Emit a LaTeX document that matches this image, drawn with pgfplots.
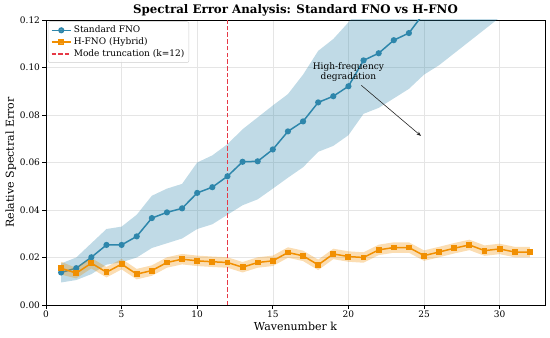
\documentclass[border=0pt]{standalone}
\usepackage{pgfplots}
\usepackage{pgfplotstable}
\pgfplotsset{compat=1.18}
\usetikzlibrary{arrows.meta}
\usepackage{fontspec}
\setmainfont{DejaVu Serif}
\definecolor{fnoblue}{HTML}{2E86AB}
\definecolor{hfnoorange}{HTML}{F18F01}
\definecolor{truncred}{RGB}{230,57,70}

% Standard FNO mean
\pgfplotstableread{
k m
1 0.0137
2 0.0155
3 0.0201
4 0.0253
5 0.0253
6 0.0289
7 0.0366
8 0.0390
9 0.0407
10 0.0472
11 0.0496
12 0.0542
13 0.0603
14 0.0605
15 0.0655
16 0.0731
17 0.0773
18 0.0853
19 0.0879
20 0.0921
21 0.1030
22 0.1060
23 0.1115
24 0.1145
25 0.1230
26 0.1280
27 0.1340
28 0.1400
29 0.1450
30 0.1500
31 0.1560
32 0.1620
}\fnodata

% Standard FNO band outline: upper edge k=1..32, then lower edge k=32..1
\pgfplotstableread{
k v
1 0.0175
2 0.0200
3 0.0260
4 0.0320
5 0.0330
6 0.0380
7 0.0460
8 0.0490
9 0.0510
10 0.0600
11 0.0630
12 0.0677
13 0.0740
14 0.0790
15 0.0840
16 0.0888
17 0.0970
18 0.1070
19 0.1120
20 0.1190
21 0.1270
22 0.1310
23 0.1370
24 0.1400
25 0.1490
26 0.1550
27 0.1620
28 0.1690
29 0.1750
30 0.1810
31 0.1880
32 0.1940
32 0.1310
31 0.1260
30 0.1210
29 0.1160
28 0.1110
27 0.1060
26 0.1010
25 0.0970
24 0.0910
23 0.0870
22 0.0830
21 0.0805
20 0.0715
19 0.0670
18 0.0645
17 0.0580
16 0.0536
15 0.0490
14 0.0445
13 0.0420
12 0.0380
11 0.0340
10 0.0320
9 0.0280
8 0.0260
7 0.0240
6 0.0200
5 0.0180
4 0.0170
3 0.0130
2 0.0105
1 0.0095
}\fnoband

% H-FNO mean
\pgfplotstableread{
k m
1 0.0155
2 0.0134
3 0.0176
4 0.0138
5 0.0172
6 0.0130
7 0.0145
8 0.0179
9 0.0193
10 0.0186
11 0.0182
12 0.0179
13 0.0159
14 0.0179
15 0.0186
16 0.0221
17 0.0207
18 0.0169
19 0.0215
20 0.0204
21 0.0200
22 0.0232
23 0.0242
24 0.0242
25 0.0208
26 0.0223
27 0.0239
28 0.0253
29 0.0229
30 0.0236
31 0.0223
32 0.0223
}\hfnodata

% H-FNO band outline: upper edge k=1..32, then lower edge k=32..1
\pgfplotstableread{
k v
1 0.0182
2 0.0156
3 0.0198
4 0.0160
5 0.0194
6 0.0152
7 0.0167
8 0.0201
9 0.0215
10 0.0208
11 0.0204
12 0.0201
13 0.0181
14 0.0201
15 0.0208
16 0.0243
17 0.0229
18 0.0191
19 0.0237
20 0.0226
21 0.0222
22 0.0254
23 0.0264
24 0.0264
25 0.0230
26 0.0245
27 0.0261
28 0.0275
29 0.0251
30 0.0258
31 0.0245
32 0.0245
32 0.0201
31 0.0201
30 0.0214
29 0.0207
28 0.0231
27 0.0217
26 0.0201
25 0.0186
24 0.0220
23 0.0220
22 0.0210
21 0.0178
20 0.0182
19 0.0193
18 0.0147
17 0.0185
16 0.0199
15 0.0164
14 0.0157
13 0.0137
12 0.0157
11 0.0160
10 0.0164
9 0.0171
8 0.0157
7 0.0123
6 0.0108
5 0.0150
4 0.0116
3 0.0154
2 0.0112
1 0.0128
}\hfnoband

\pgfplotstableread{
k e
12 0
12 0.12
}\truncdata

\begin{document}
\begin{tikzpicture}
\begin{axis}[
  scale only axis,
  width=499pt, height=285pt,
  xmin=0, xmax=33, ymin=0, ymax=0.12,
  xtick={0,5,10,15,20,25,30},
  ytick={0,0.02,0.04,0.06,0.08,0.10,0.12},
  yticklabel style={xshift=1pt, /pgf/number format/.cd, fixed, fixed zerofill, precision=2},
  xticklabel style={yshift=1pt},
  /pgf/number format/assume math mode=true,
  scaled y ticks=false,
  tick label style={font=\fontsize{9}{10}\selectfont},
  xtick pos=bottom, ytick pos=left,
  tick align=outside,
  major tick length=3.5pt,
  every tick/.style={black, line width=0.8pt},
  axis line style={black, line width=0.9pt},
  grid=major,
  major grid style={black!10, line width=0.6pt},
  xlabel={Wavenumber k},
  ylabel={Relative Spectral Error},
  label style={font=\fontsize{11}{13}\selectfont},
  xlabel style={yshift=3pt},
  ylabel style={yshift=-3pt},
  title={Spectral Error Analysis: Standard FNO vs H-FNO},
  title style={font=\bfseries\fontsize{11.8}{13}\selectfont, yshift=-5.5pt},
  legend style={at={(0.004,0.995)}, anchor=north west, draw=black!20, rounded corners=2pt,
    fill=white, fill opacity=0.8, text opacity=1, font=\fontsize{9}{10.5}\selectfont,
    inner sep=2.5pt, row sep=-0.5pt},
  legend cell align=left,
  legend image code/.code={\draw[mark repeat=2,mark phase=2,#1] plot coordinates {(0cm,0cm) (0.34cm,0cm) (0.68cm,0cm)};},
]
\addplot[fill=fnoblue, fill opacity=0.3, draw=none, forget plot] table[x=k, y=v] {\fnoband};
\addplot[color=fnoblue, line width=1.5pt, mark=*, mark size=2.3pt, mark options={fill=fnoblue, draw=fnoblue}] table[x=k, y=m] {\fnodata};
\addlegendentry{Standard FNO}
\addplot[fill=hfnoorange, fill opacity=0.3, draw=none, forget plot] table[x=k, y=v] {\hfnoband};
\addplot[color=hfnoorange, line width=1.5pt, mark=square*, mark size=2.2pt, mark options={fill=hfnoorange, draw=hfnoorange}] table[x=k, y=m] {\hfnodata};
\addlegendentry{H-FNO (Hybrid)}
\addplot[color=truncred, line width=1.8pt, dash pattern=on 4.5pt off 2.2pt, mark=none] table[x=k, y=e] {\truncdata};
\addlegendentry{Mode truncation (k=12)}
\node[font=\fontsize{9}{10.5}\selectfont, align=center, inner sep=1pt] at (axis cs:20,0.098) {High-frequency\\degradation};
\draw[black!85, line width=0.6pt, -{Stealth[length=4.5pt,width=3.5pt]}] (axis cs:20.85,0.0925) -- (axis cs:24.8,0.0712);
\end{axis}
\pgfresetboundingbox
\useasboundingbox (-46pt,-33pt) rectangle (504pt,305pt);
\end{tikzpicture}
\end{document}
